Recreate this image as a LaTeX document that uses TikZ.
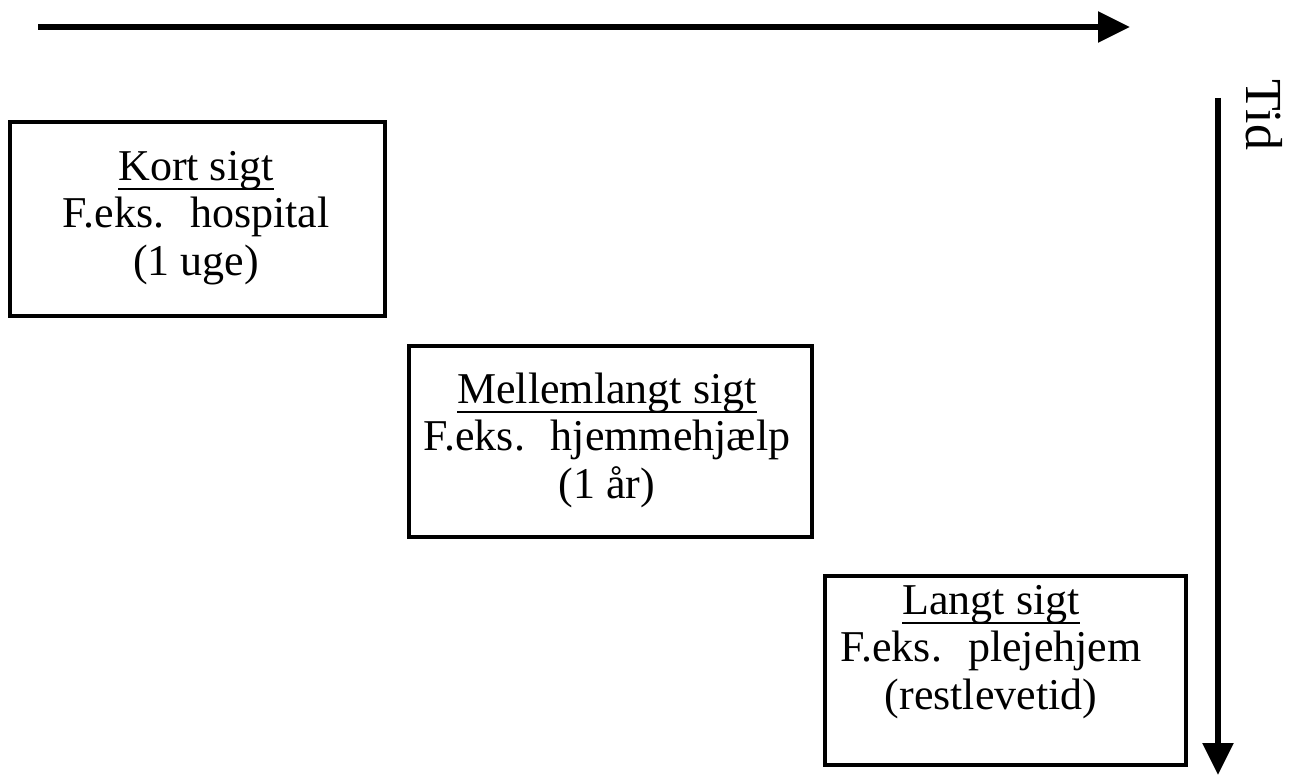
\documentclass[tikz,border=0pt]{standalone}
\usepackage{fontspec}
\setmainfont{Liberation Serif}
\usetikzlibrary{arrows.meta}
% heading underline that sits just below the baseline
\newcommand\headline[1]{\setbox0\hbox{#1}\rlap{\rule[-9.5pt]{\wd0}{2pt}}\box0}
% wide gap after "F.eks."
\newcommand\egap{\hspace{26pt}}
\begin{document}
\begin{tikzpicture}[x=1pt,y=-1pt,
  stagebox/.style={draw,line width=4pt,inner sep=0pt},
  stagetext/.style={align=center,inner sep=0pt,font=\fontsize{44}{47.5}\selectfont},
  axis/.style={line width=5.5pt,-{Triangle[length=32pt,width=30pt]}}]
\useasboundingbox (0,0) rectangle (1291,775);
% three care stages, each a framed box
\node[stagebox,minimum width=375pt,minimum height=194pt] (kort) at (197.5,219) {};
\node[stagebox,minimum width=403pt,minimum height=191pt] (mellem) at (610.5,441.5) {};
\node[stagebox,minimum width=361pt,minimum height=189pt] (lang) at (1005,670.5) {};
\node[stagetext] (kortT) at (196,218) {\headline{Kort sigt}\\F.eks.\egap hospital\\(1 uge)};
\node[stagetext] (mellemT) at (607,440) {\headline{Mellemlangt sigt}\\F.eks.\egap hjemmehjælp\\(1 år)};
\node[stagetext] (langT) at (991,652) {\headline{Langt sigt}\\F.eks.\egap plejehjem\\(restlevetid)};
% axes
\coordinate (hs) at (38,27);
\coordinate (he) at (1130,27);
\coordinate (vs) at (1218,98);
\coordinate (ve) at (1218,775);
\draw[axis] (hs) -- (he);
\draw[axis] (vs) -- (ve);
\node[rotate=-90,inner sep=0pt,font=\fontsize{52}{54}\selectfont] (tid) at (1264,115) {Tid};
\end{tikzpicture}
\end{document}
